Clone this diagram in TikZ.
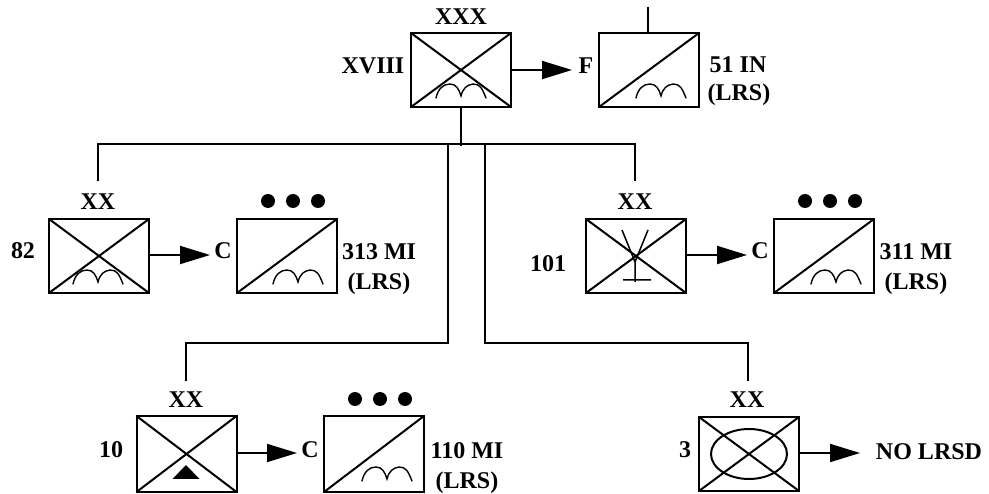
\documentclass[tikz,border=0pt]{standalone}
\usepackage{fontspec}
\setmainfont{Liberation Serif}
\usetikzlibrary{arrows.meta}
\tikzset{
  line/.style={line width=2pt},
  unit/.style={draw,line width=2pt,minimum width=100pt,minimum height=74pt,inner sep=0pt,outer sep=0pt},
  lbl/.style={font=\fontsize{24}{24}\selectfont\bfseries,inner sep=0pt},
  dotmark/.style={circle,fill=black,minimum size=14pt,inner sep=0pt},
  arr/.style={line width=2pt,-{Triangle[length=30pt,width=18pt]}},
  hump/.pic={\draw[line width=1.4pt,line cap=round] (-25,7) .. controls (-23,-2) and (-18,-7) .. (-11,-7) .. controls (-5,-7) and (-2,-2) .. (0,5) .. controls (2,-3) and (6,-6) .. (12,-7) .. controls (19,-7) and (21,-3) .. (25,7);}
}
\newcommand{\crossbox}[1]{\draw[line] (#1.south west) -- (#1.north east) (#1.north west) -- (#1.south east);}
\newcommand{\slashbox}[1]{\draw[line] (#1.south west) -- (#1.north east);}
\begin{document}
\begin{tikzpicture}[x=1pt,y=-1pt]
\useasboundingbox (0,0) rectangle (989,494);
% units
\node[unit] (corps) at (461,70) {};
\node[unit] (in51) at (649,70) {};
\node[unit] (d82) at (99,256) {};
\node[unit] (mi313) at (287,256) {};
\node[unit] (d101) at (636,256) {};
\node[unit] (mi311) at (824,256) {};
\node[unit,minimum height=76pt] (d10) at (186.5,454) {};
\node[unit,minimum height=76pt] (mi110) at (374,454) {};
\node[unit,minimum height=74pt] (d3) at (749,454) {};
\crossbox{corps}\crossbox{d82}\crossbox{d101}\crossbox{d10}\crossbox{d3}
\slashbox{in51}\slashbox{mi313}\slashbox{mi311}\slashbox{mi110}
% symbols
\pic at (461,91) {hump};
\pic at (661,91) {hump};
\pic at (98,277) {hump};
\pic at (298,277) {hump};
\pic at (836,277) {hump};
\pic at (387,474) {hump};
\draw[line width=1.5pt] (622,230) -- (635,262) -- (648,230) (635,262) -- (635,282) (623,280) -- (651,280);
\fill (186,465) -- (199.5,479) -- (172.5,479) -- cycle;
\draw[line] (749,454) ellipse [x radius=38,y radius=25];
% labels
\node[lbl] (tXXX) at (461,17) {XXX};
\node[lbl] (tXVIII) at (373,66) {XVIII};
\node[lbl] (tF) at (586,66) {F};
\node[lbl] (t51) at (738,65) {51 IN};
\node[lbl] (t51b) at (739,95) {(LRS)};
\node[lbl] (tXXa) at (98,202) {XX};
\node[lbl] (t82) at (23,251) {82};
\node[lbl] (tCa) at (223,251) {C};
\node[lbl] (t313) at (379,252) {313 MI};
\node[lbl] (t313b) at (379,284) {(LRS)};
\node[lbl] (tXXb) at (635,202) {XX};
\node[lbl] (t101) at (548,264) {101};
\node[lbl] (tCb) at (760,251) {C};
\node[lbl] (t311) at (916,252) {311 MI};
\node[lbl] (t311b) at (916,284) {(LRS)};
\node[lbl] (tXXc) at (186,400) {XX};
\node[lbl] (t10) at (111,450) {10};
\node[lbl] (tCc) at (310,450) {C};
\node[lbl] (t110) at (467,451) {110 MI};
\node[lbl] (t110b) at (467,483) {(LRS)};
\node[lbl] (tXXd) at (747,400) {XX};
\node[lbl] (t3) at (685,450) {3};
\node[lbl] (tNO) at (929,452) {NO LRSD};
% dots
\foreach \n/\x/\y in {a/268/201,b/293/201,c/318/201,d/805/201,e/830/201,f/855/201,g/355/399,h/380/399,i/405/399}
  \node[dotmark] (dot\n) at (\x,\y) {};
% free ends and junctions
\coordinate (top) at (648,7);
\coordinate (j0) at (461,146);
\coordinate (jl) at (98,144);
\coordinate (jr) at (635,144);
\coordinate (dl) at (98,181);
\coordinate (dr) at (635,181);
\coordinate (s1) at (448,144);
\coordinate (s2) at (485,144);
\coordinate (s1b) at (448,343);
\coordinate (s2b) at (485,343);
\coordinate (bl) at (186,343);
\coordinate (br) at (748,343);
\coordinate (bld) at (186,381);
\coordinate (brd) at (748,381);
\coordinate (a1) at (572,70);
\coordinate (a2) at (210,255);
\coordinate (a3) at (747,255);
\coordinate (a4) at (297,453);
\coordinate (a5) at (860,453);
% connectors
\draw[line] (top) -- (top |- in51.north);
\draw[line] (corps.south) -- (j0);
\draw[line] (dl) -- (jl) -- (jr) -- (dr);
\draw[line] (s1) -- (s1b) -- (bl) -- (bld);
\draw[line] (s2) -- (s2b) -- (br) -- (brd);
\draw[arr] (corps.east) -- (a1);
\draw[arr] (d82.east |- a2) -- (a2);
\draw[arr] (d101.east |- a3) -- (a3);
\draw[arr] (d10.east |- a4) -- (a4);
\draw[arr] (d3.east |- a5) -- (a5);
\end{tikzpicture}
\end{document}
